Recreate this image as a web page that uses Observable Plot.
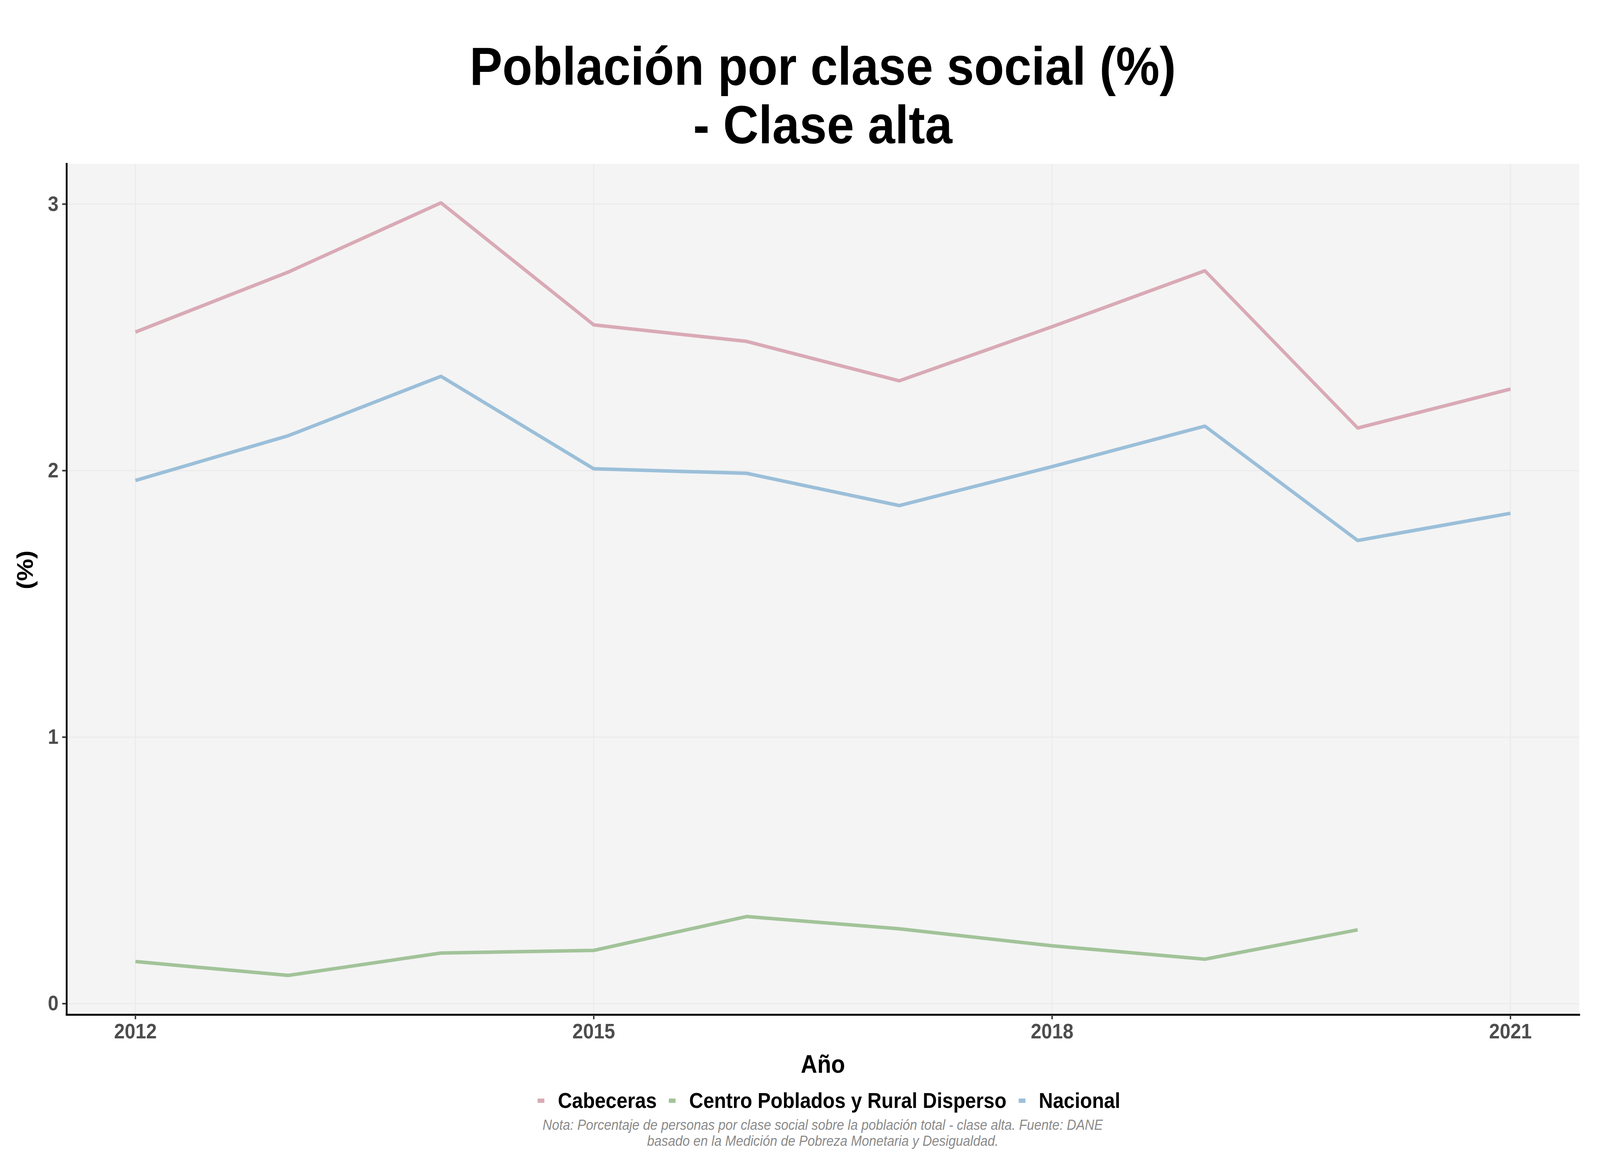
<!DOCTYPE html>
<html>
<head>
<meta charset="utf-8">
<script src="https://cdn.jsdelivr.net/npm/d3@7"></script>
<script src="https://cdn.jsdelivr.net/npm/@observablehq/plot@0.6"></script>
<style>
  html, body { margin: 0; padding: 0; background: #ffffff; overflow: hidden; }
  #wrap { position: relative; width: 4500px; height: 3000px; background: #ffffff; font-family: "Liberation Sans", Arial, Helvetica, sans-serif; transform-origin: 0 0; }
  #title { position: absolute; left: 187px; width: 4254px; top: 94px; text-align: center; font-size: 138px; line-height: 150px; font-weight: bold; color: #000; }
  #chart { position: absolute; left: 0; top: 400px; }
  #legend { position: absolute; left: 1512px; top: 2787px; display: flex; align-items: center; font-size: 55px; line-height: 60px; font-weight: bold; color: #000; white-space: nowrap; }
  #legend .key { width: 19px; height: 11px; margin-right: 38px; }
  #legend .lab { margin-right: 34px; }
  #caption { position: absolute; left: 187px; width: 4254px; top: 2859px; text-align: center; font-size: 36.6px; line-height: 41px; font-style: italic; color: #8a8a8a; }
</style>
</head>
<body>
<div id="wrap">
  <div id="title"></div>
  <div id="chart"></div>
  <div id="legend"></div>
  <div id="caption"></div>
</div>
<script>
// ---- data ----
const years = [2012, 2013, 2014, 2015, 2016, 2017, 2018, 2019, 2020, 2021];
const cabeceras = [2.52, 2.745, 3.005, 2.547, 2.485, 2.337, 2.54, 2.75, 2.16, 2.306];
const nacional = [1.963, 2.131, 2.354, 2.007, 1.99, 1.869, 2.015, 2.167, 1.738, 1.84];
const centroPoblados = [0.158, 0.106, 0.19, 0.2, 0.327, 0.281, 0.217, 0.167, 0.277, null];
const seriesNames = ["Cabeceras", "Centro Poblados y Rural Disperso", "Nacional"];
const seriesColors = ["#D9AAB6", "#A2C399", "#9BBFD9"];
const xTicks = [2012, 2015, 2018, 2021];
const yTicks = [0, 1, 2, 3];
const titleLines = ["Población por clase social (%)", "- Clase alta"];
const xLabel = "Año";
const yLabel = "(%)";
const captionLines = [
  "Nota: Porcentaje de personas por clase social sobre la población total - clase alta. Fuente: DANE",
  "basado en la Medición de Pobreza Monetaria y Desigualdad."
];

// ---- table ----
const seriesValues = [cabeceras, centroPoblados, nacional];
const rows = seriesNames.flatMap((name, i) =>
  years.map((yr, j) => ({ serie: name, year: yr, value: seriesValues[i][j] }))
       .filter(d => d.value != null)
);

const font = '"Liberation Sans", Arial, Helvetica, sans-serif';

const chart = Plot.plot({
  width: 4500,
  height: 2370,
  marginTop: 19,
  marginBottom: 173,
  marginLeft: 187,
  marginRight: 59,
  style: { fontFamily: font, fontSize: "54px", fontWeight: "bold", background: "transparent", overflow: "visible" },
  x: { domain: [2011.55, 2021.45] },
  y: { domain: [-0.0416, 3.151] },
  color: { domain: seriesNames, range: seriesColors },
  marks: [
    Plot.frame({ fill: "#F4F4F4", stroke: "none" }),
    Plot.gridX(xTicks, { stroke: "#EBEBEB", strokeOpacity: 1, strokeWidth: 3 }),
    Plot.gridY(yTicks, { stroke: "#EBEBEB", strokeOpacity: 1, strokeWidth: 3 }),
    Plot.line(rows, { x: "year", y: "value", z: "serie", stroke: "serie", strokeWidth: 9, strokeLinejoin: "miter", strokeLinecap: "butt" }),
    Plot.frame({ anchor: "left", stroke: "#000", strokeWidth: 5 }),
    Plot.frame({ anchor: "bottom", stroke: "#000", strokeWidth: 5 }),
    Plot.axisX({ ticks: xTicks, tickFormat: d => String(d), tickSize: 12, tickPadding: 10, label: null, color: "#4d4d4d", stroke: "#333", strokeWidth: 4, fontSize: 54, fontWeight: "bold" }),
    Plot.axisY({ ticks: yTicks, tickFormat: d => String(d), tickSize: 12, tickPadding: 11, label: null, color: "#4d4d4d", stroke: "#333", strokeWidth: 4, fontSize: 54, fontWeight: "bold" }),
    Plot.text([xLabel], { frameAnchor: "bottom", lineAnchor: "middle", dy: 128, text: d => d, fontSize: 64, fontWeight: "bold", fill: "#000" }),
    Plot.text([yLabel], { frameAnchor: "left", lineAnchor: "middle", dx: -116, rotate: -90, text: d => d, fontSize: 64, fontWeight: "bold", fill: "#000" })
  ]
});
document.getElementById("chart").appendChild(chart);

// ---- title ----
const titleEl = document.getElementById("title");
titleLines.forEach(t => { const d = document.createElement("div"); d.textContent = t; titleEl.appendChild(d); });

// ---- legend ----
const legendEl = document.getElementById("legend");
seriesNames.forEach((name, i) => {
  const k = document.createElement("span"); k.className = "key"; k.style.background = seriesColors[i];
  const l = document.createElement("span"); l.className = "lab"; l.textContent = name;
  legendEl.appendChild(k); legendEl.appendChild(l);
});

// ---- caption ----
const capEl = document.getElementById("caption");
captionLines.forEach(t => { const d = document.createElement("div"); d.textContent = t; capEl.appendChild(d); });

// ---- fit the 4500x3000 design into the actual window ----
const sx = window.innerWidth / 4500, sy = window.innerHeight / 3000;
if (Math.abs(sx - 1) > 0.001 || Math.abs(sy - 1) > 0.001) {
  document.getElementById("wrap").style.transform = `scale(${sx}, ${sy})`;
}
</script>
</body>
</html>
